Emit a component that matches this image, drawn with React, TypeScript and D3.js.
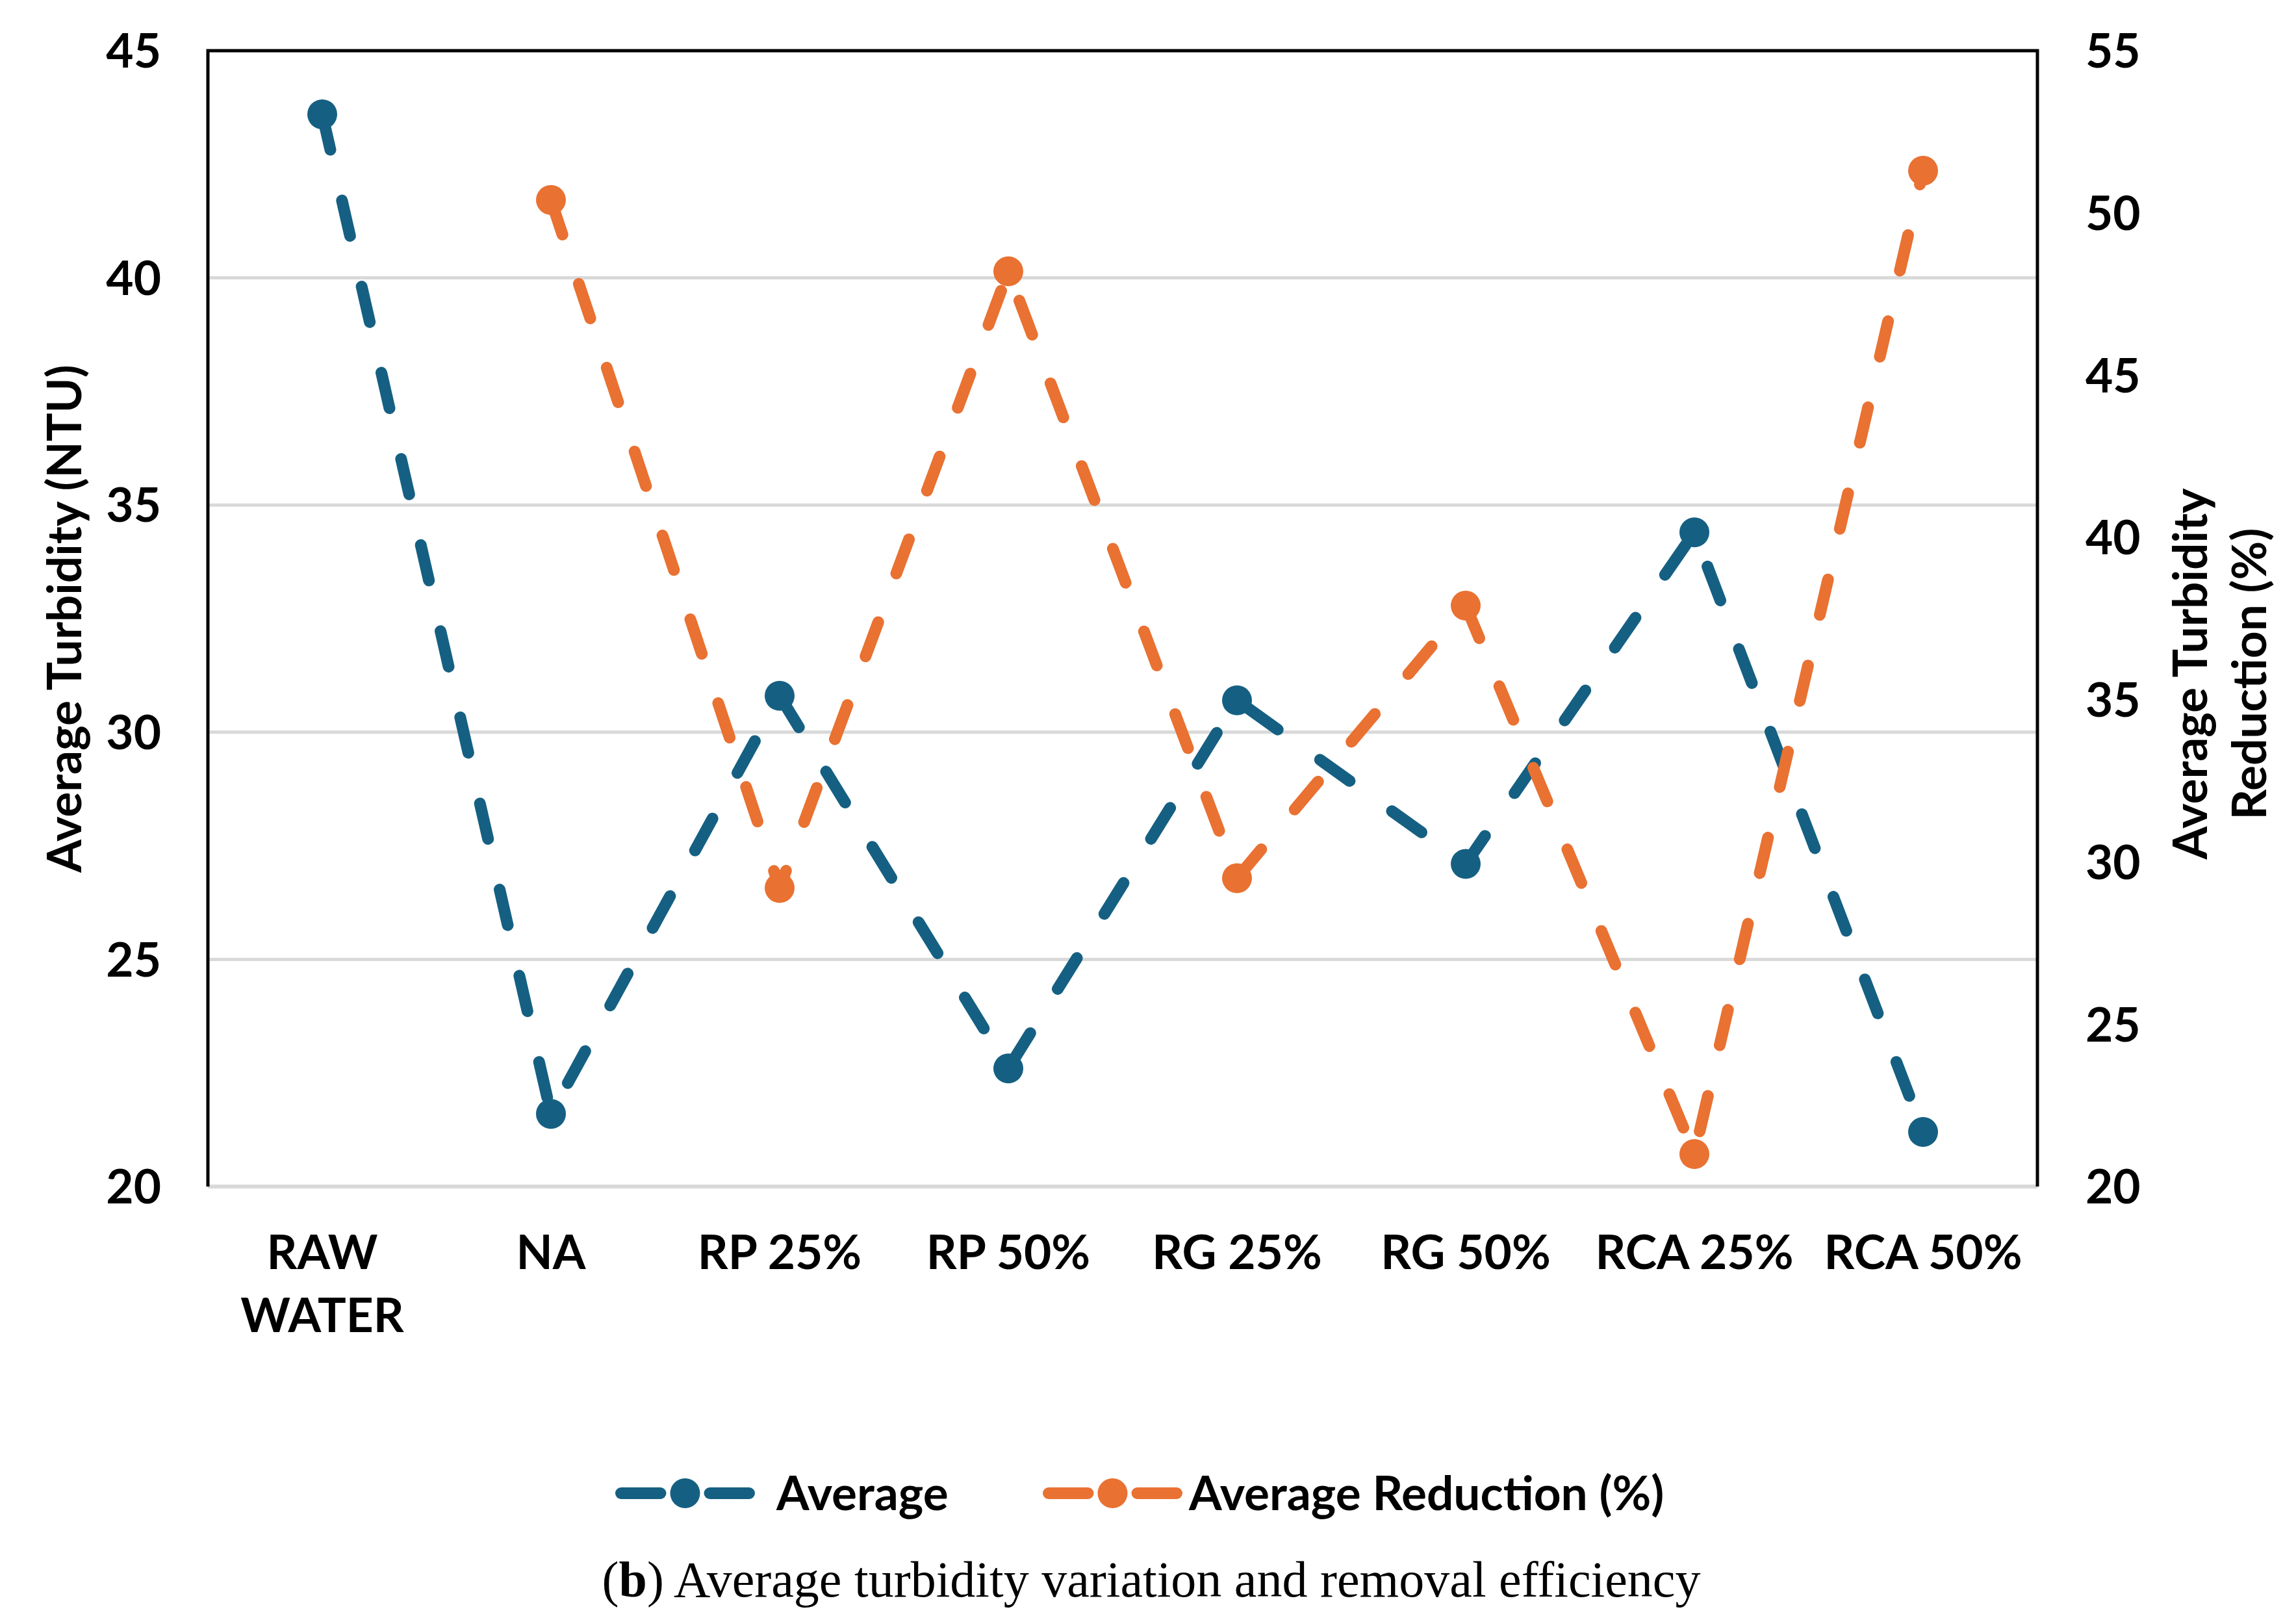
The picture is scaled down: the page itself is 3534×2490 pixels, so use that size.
import * as d3 from "d3";

const categories = [
    ["RAW", "WATER"],
    ["NA"],
    ["RP 25%"],
    ["RP 50%"],
    ["RG 25%"],
    ["RG 50%"],
    ["RCA 25%"],
    ["RCA 50%"],
];
const average = [43.6, 21.6, 30.8, 22.6, 30.7, 27.1, 34.4, 21.2];
const averageReduction = [null, 50.4, 29.2, 48.2, 29.5, 37.9, 21.0, 51.3];
const leftTicks = [20, 25, 30, 35, 40, 45];
const rightTicks = [20, 25, 30, 35, 40, 45, 50, 55];

const BLUE = "#156082";
const ORANGE = "#E97132";
const FONT = "Lato, 'Open Sans', sans-serif";

const App = () => {
    const width = 3534;
    const height = 2490;
    const left = 320;
    const right = 3136;
    const top = 78;
    const bottom = 1826;

    const xScale = d3
        .scaleBand()
        .domain(categories.map((c) => c.join(" ")))
        .range([left, right])
        .padding(0);
    const xPos = (i) => xScale(categories[i].join(" ")) + xScale.bandwidth() / 2;

    const yLeft = d3.scaleLinear().domain([20, 45]).range([bottom, top]);
    const yRight = d3.scaleLinear().domain([20, 55]).range([bottom, top]);

    const lineGenerator = (values, scale) =>
        d3
            .line()
            .defined((d) => d != null)
            .x((d, i) => xPos(i))
            .y((d) => scale(d))(values);

    const series = [
        { name: "Average", values: average, scale: yLeft, color: BLUE },
        { name: "Average Reduction (%)", values: averageReduction, scale: yRight, color: ORANGE },
    ];

    const lineWidth = 18;
    const dash = "56 80";

    // legend positions
    const legend = [
        { x1: 947, x2: 1162, tx: 1195 },
        { x1: 1605, x2: 1820, tx: 1830 },
    ];
    const legendY = 2298;

    return (
        <svg
            width={width}
            height={height}
            style={{ position: "absolute", left: 0, top: 0, background: "#fff" }}
        >
            <rect x={0} y={0} width={width} height={height} fill="#fff" />
            {/* gridlines */}
            {leftTicks.slice(1, -1).map((t) => (
                <line
                    key={t}
                    x1={left}
                    x2={right}
                    y1={yLeft(t)}
                    y2={yLeft(t)}
                    stroke="#D9D9D9"
                    strokeWidth={5}
                />
            ))}
            {/* category axis line */}
            <line x1={left} x2={right} y1={bottom} y2={bottom} stroke="#D9D9D9" strokeWidth={6} />
            {/* plot border */}
            <path
                d={`M${left},${bottom} V${top} H${right} V${bottom}`}
                fill="none"
                stroke="#000"
                strokeWidth={5}
            />

            {/* left ticks */}
            {leftTicks.map((t) => (
                <text
                    key={t}
                    x={248}
                    y={yLeft(t)}
                    dy="0.36em"
                    textAnchor="end"
                    fontFamily={FONT}
                    fontWeight="bold"
                    fontSize={73}
                >
                    {t}
                </text>
            ))}
            {/* right ticks */}
            {rightTicks.map((t) => (
                <text
                    key={t}
                    x={3210}
                    y={yRight(t)}
                    dy="0.36em"
                    textAnchor="start"
                    fontFamily={FONT}
                    fontWeight="bold"
                    fontSize={73}
                >
                    {t}
                </text>
            ))}

            {/* category labels */}
            {categories.map((c, i) => (
                <text
                    key={i}
                    x={xPos(i)}
                    y={1927}
                    textAnchor="middle"
                    fontFamily={FONT}
                    fontWeight="bold"
                    fontSize={73}
                >
                    {c.map((s, j) => (
                        <tspan key={j} x={xPos(i)} y={1927 + j * 97} dy="0.36em">
                            {s}
                        </tspan>
                    ))}
                </text>
            ))}

            {/* axis titles */}
            <text
                transform={`translate(125,${(top + bottom) / 2}) rotate(-90)`}
                textAnchor="middle"
                fontFamily={FONT}
                fontWeight="bold"
                fontSize={73}
            >
                Average Turbidity (NTU)
            </text>
            <text
                transform="translate(3397,1037) rotate(-90)"
                textAnchor="middle"
                fontFamily={FONT}
                fontWeight="bold"
                fontSize={73}
            >
                <tspan x={0} y={0}>Average Turbidity</tspan>
                <tspan x={0} y={91}>Reduction (%)</tspan>
            </text>

            {/* series */}
            {series.map((s) => (
                <g key={s.name}>
                    <path
                        d={lineGenerator(s.values, s.scale)}
                        fill="none"
                        stroke={s.color}
                        strokeWidth={lineWidth}
                        strokeDasharray={dash}
                        strokeLinecap="round"
                        strokeLinejoin="round"
                    />
                    {s.values.map((v, i) =>
                        v == null ? null : (
                            <circle key={i} cx={xPos(i)} cy={s.scale(v)} r={23} fill={s.color} />
                        )
                    )}
                </g>
            ))}

            {/* legend */}
            {series.map((s, k) => {
                const l = legend[k];
                const mid = (l.x1 + l.x2) / 2;
                return (
                    <g key={s.name}>
                        <line
                            x1={l.x1 + lineWidth / 2}
                            x2={mid - 38}
                            y1={legendY}
                            y2={legendY}
                            stroke={s.color}
                            strokeWidth={lineWidth}
                            strokeLinecap="round"
                        />
                        <line
                            x1={mid + 38}
                            x2={l.x2 - lineWidth / 2}
                            y1={legendY}
                            y2={legendY}
                            stroke={s.color}
                            strokeWidth={lineWidth}
                            strokeLinecap="round"
                        />
                        <circle cx={mid} cy={legendY} r={23} fill={s.color} />
                        <text
                            x={l.tx}
                            y={legendY}
                            dy="0.36em"
                            fontFamily={FONT}
                            fontWeight="bold"
                            fontSize={73}
                        >
                            {s.name}
                        </text>
                    </g>
                );
            })}

            {/* caption */}
            <text
                x={1772}
                y={2430}
                dy="0.35em"
                textAnchor="middle"
                fontFamily="'Liberation Serif', 'DejaVu Serif', serif"
                fontSize={78}
            >
                (<tspan fontWeight="bold">b</tspan>) Average turbidity variation and removal efficiency
            </text>
        </svg>
    );
};

export default App;
